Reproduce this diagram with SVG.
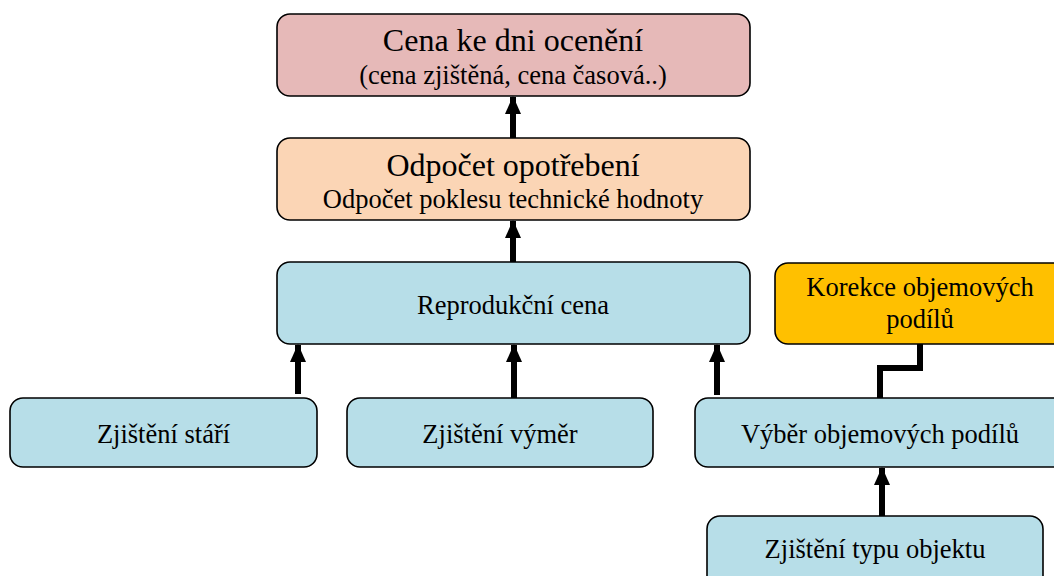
<svg xmlns="http://www.w3.org/2000/svg" width="1054" height="576" viewBox="0 0 1054 576">
<style>
.box{stroke:#000;stroke-width:1.6}
.pink{fill:#E6B9B8}
.orange{fill:#FBD5B5}
.blue{fill:#B7DEE8}
.gold{fill:#FFC000}
.t{font-size:32px}
.b{font-size:26.5px}
.conn{stroke:#000;stroke-width:6;fill:none}
</style>
<defs>
<marker id="ah" markerUnits="userSpaceOnUse" markerWidth="18" markerHeight="18" viewBox="0 0 18 18" refX="17" refY="9" orient="auto">
<path d="M0,1 L18,9 L0,17 Z" fill="#000"/>
</marker>
</defs>
<rect width="1054" height="576" fill="#fff"/>
<g id="connectors">
<line class="conn" x1="513" y1="138" x2="513" y2="97" marker-end="url(#ah)"/>
<line class="conn" x1="513" y1="262" x2="513" y2="221" marker-end="url(#ah)"/>
<line class="conn" x1="298" y1="394" x2="298" y2="345" marker-end="url(#ah)"/>
<line class="conn" x1="514" y1="398" x2="514" y2="345" marker-end="url(#ah)"/>
<line class="conn" x1="717" y1="395" x2="717" y2="345" marker-end="url(#ah)"/>
<line class="conn" x1="882" y1="516" x2="882" y2="468" marker-end="url(#ah)"/>
<polyline class="conn" points="920,344 920,368 880,368 880,398" stroke-linejoin="miter"/>
</g>
<g font-family="Liberation Serif, Times New Roman, serif" text-anchor="middle" fill="#000">
<g id="node-cena">
<rect class="box pink" x="277" y="14" width="473" height="82" rx="13"/>
<text class="t" x="513" y="51">Cena ke dni ocenění</text>
<text class="b" x="513" y="84">(cena zjištěná, cena časová..)</text>
</g>
<g id="node-odpocet">
<rect class="box orange" x="277" y="138" width="473" height="82" rx="13"/>
<text class="t" x="513" y="176">Odpočet opotřebení</text>
<text class="b" x="513" y="208">Odpočet poklesu technické hodnoty</text>
</g>
<g id="node-reprodukcni">
<rect class="box blue" x="277" y="262" width="473" height="82" rx="13"/>
<text class="b" x="513" y="314">Reprodukční cena</text>
</g>
<g id="node-korekce">
<rect class="box gold" x="775" y="263" width="300" height="81" rx="13"/>
<text class="b" x="920" y="296">Korekce objemových</text>
<text class="b" x="920" y="328">podílů</text>
</g>
<g id="node-stari">
<rect class="box blue" x="10" y="398" width="307" height="69" rx="13"/>
<text class="b" x="163.5" y="443">Zjištění stáří</text>
</g>
<g id="node-vymer">
<rect class="box blue" x="347" y="398" width="306" height="69" rx="13"/>
<text class="b" x="500" y="443">Zjištění výměr</text>
</g>
<g id="node-vyber">
<rect class="box blue" x="695" y="398" width="380" height="69" rx="13"/>
<text class="b" x="880" y="443">Výběr objemových podílů</text>
</g>
<g id="node-typ">
<rect class="box blue" x="707" y="516" width="336" height="80" rx="13"/>
<text class="b" x="875" y="558">Zjištění typu objektu</text>
</g>
</g>
</svg>
